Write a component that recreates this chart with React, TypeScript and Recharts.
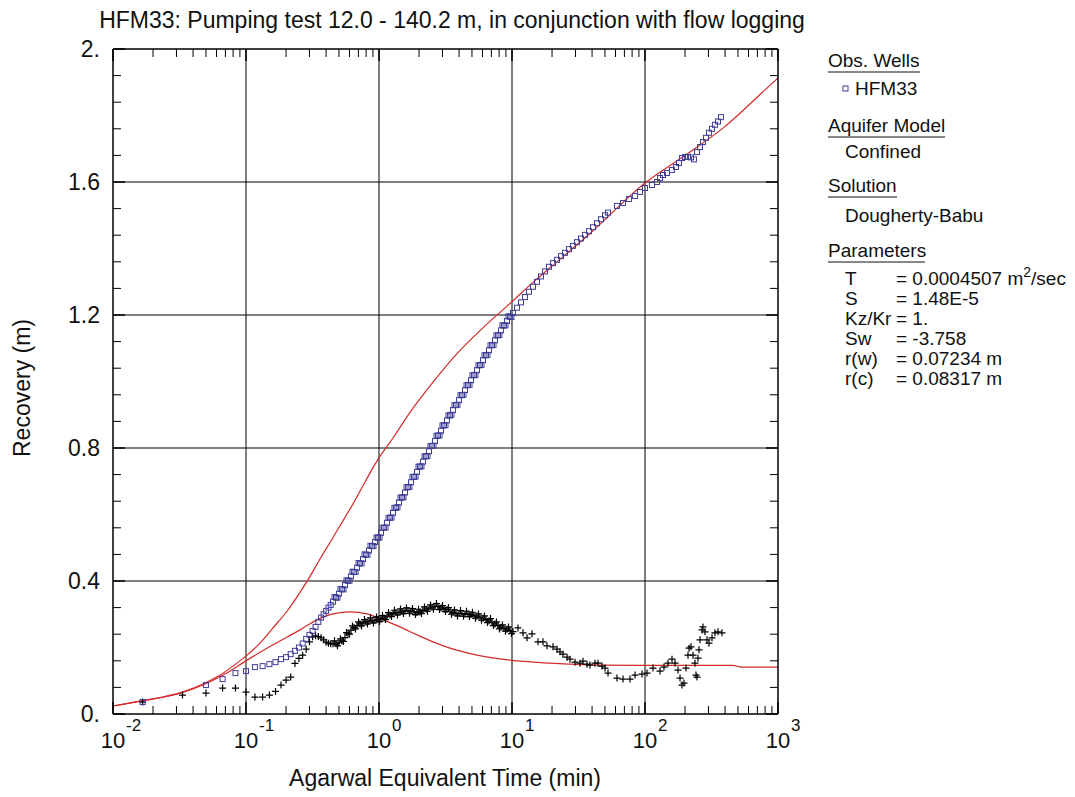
import React from 'react';
import { ComposedChart, XAxis, YAxis, Scatter, Line, ReferenceLine } from 'recharts';

const FONT = '"Liberation Sans", Arial, sans-serif';
const W = 1075;
const H = 797;

// ---------- axis definitions ----------
const xDecades = [0.01, 0.1, 1, 10, 100, 1000];
const xExponents = ['-2', '-1', '0', '1', '2', '3'];
const yMajor = [0, 0.4, 0.8, 1.2, 1.6, 2.0];
const yLabels = ['0.', '0.4', '0.8', '1.2', '1.6', '2.'];
const yMinorCount = 25; // 0.08 steps between 0 and 2
const yMinorStep = 0.08;

// ---------- data: [time (min), value (m)] ----------
const obsRecovery: [number, number][] = [
  [0.0167, 0.036], [0.05, 0.087], [0.0667, 0.105], [0.0833, 0.123], [0.1, 0.129], [0.1167, 0.141],
  [0.1333, 0.144], [0.15, 0.15], [0.1667, 0.156], [0.1833, 0.165], [0.2, 0.171], [0.2167, 0.18],
  [0.2333, 0.19], [0.25, 0.2], [0.2667, 0.212], [0.2833, 0.226], [0.3, 0.238], [0.3167, 0.25],
  [0.3333, 0.262], [0.35, 0.277], [0.3667, 0.29], [0.3833, 0.3], [0.4, 0.31], [0.4167, 0.32], [0.4333, 0.328],
  [0.451, 0.338], [0.475, 0.35], [0.5, 0.362], [0.527, 0.375], [0.555, 0.388], [0.585, 0.401],
  [0.616, 0.414], [0.649, 0.427], [0.684, 0.44], [0.72, 0.453], [0.758, 0.466], [0.798, 0.479],
  [0.841, 0.492], [0.886, 0.505], [0.933, 0.517], [0.983, 0.53], [1.035, 0.545], [1.091, 0.56],
  [1.149, 0.575], [1.21, 0.59], [1.274, 0.605], [1.342, 0.62], [1.414, 0.636], [1.489, 0.651],
  [1.568, 0.666], [1.652, 0.682], [1.74, 0.697], [1.833, 0.713], [1.93, 0.728], [2.033, 0.744],
  [2.142, 0.759], [2.256, 0.775], [2.376, 0.79], [2.503, 0.806], [2.636, 0.821], [2.777, 0.837],
  [2.925, 0.852], [3.081, 0.868], [3.245, 0.883], [3.418, 0.898], [3.6, 0.914], [3.792, 0.929],
  [3.994, 0.944], [4.207, 0.959], [4.431, 0.974], [4.667, 0.989], [4.916, 1.004], [5.178, 1.019],
  [5.454, 1.034], [5.745, 1.049], [6.051, 1.064], [6.374, 1.079], [6.713, 1.094], [7.071, 1.109],
  [7.448, 1.124], [7.845, 1.139], [8.263, 1.154], [8.703, 1.168], [9.167, 1.182], [9.656, 1.195],
  [10.17, 1.206], [10.91, 1.222], [11.69, 1.238], [12.53, 1.254], [13.42, 1.27], [14.38, 1.285],
  [15.41, 1.3], [16.52, 1.316], [17.7, 1.331], [18.97, 1.345], [20.33, 1.356], [21.79, 1.366],
  [23.35, 1.377], [25.02, 1.387], [26.81, 1.398], [28.74, 1.408], [30.8, 1.419], [33.01, 1.43],
  [35.37, 1.441], [37.91, 1.452], [40.64, 1.464], [43.55, 1.476], [46.68, 1.488], [50.04, 1.5],
  [52.72, 1.508], [61.56, 1.528], [68.35, 1.537], [75.86, 1.549], [84.2, 1.558], [91.6, 1.57],
  [100, 1.582], [112.9, 1.591], [123.1, 1.6], [129.7, 1.612], [136.5, 1.621], [146.3, 1.627],
  [159.5, 1.636], [171.0, 1.645], [180.2, 1.657], [189.7, 1.672], [199.9, 1.675], [210.5, 1.676],
  [221.8, 1.674], [233.4, 1.668], [246.0, 1.69], [259.2, 1.705], [272.9, 1.72], [287.5, 1.733],
  [302.7, 1.748], [319.0, 1.76], [335.7, 1.772], [353.8, 1.782], [372.5, 1.795],
];

// extra readings inside the thick recovery band (0.45 - 10 min)
const obsRecoveryBand: [number, number][] = [
  [0.463, 0.352], [0.487, 0.35], [0.513, 0.376], [0.541, 0.375], [0.57, 0.402], [0.6, 0.401],
  [0.632, 0.428], [0.666, 0.427], [0.702, 0.454], [0.739, 0.453], [0.778, 0.48], [0.819, 0.479],
  [0.863, 0.506], [0.909, 0.505], [0.958, 0.531], [1.009, 0.531], [1.062, 0.56], [1.12, 0.561],
  [1.179, 0.59], [1.242, 0.591], [1.307, 0.62], [1.377, 0.622], [1.451, 0.651], [1.528, 0.652],
  [1.609, 0.682], [1.695, 0.683], [1.786, 0.713], [1.881, 0.714], [1.981, 0.744], [2.086, 0.745],
  [2.198, 0.775], [2.315, 0.776], [2.439, 0.806], [2.569, 0.807], [2.705, 0.837], [2.85, 0.838],
  [3.002, 0.868], [3.162, 0.869], [3.33, 0.898], [3.508, 0.9], [3.695, 0.929], [3.892, 0.93],
  [4.099, 0.959], [4.318, 0.96], [4.548, 0.989], [4.79, 0.99], [5.045, 1.019], [5.314, 1.02],
  [5.597, 1.049], [5.896, 1.05], [6.21, 1.079], [6.542, 1.08], [6.89, 1.109], [7.257, 1.11],
  [7.644, 1.139], [8.051, 1.14], [8.48, 1.169], [8.932, 1.169], [9.408, 1.196], [9.91, 1.194],
];

const obsDerivative: [number, number][] = [
  [0.0167, 0.036], [0.0333, 0.057], [0.05, 0.063], [0.0667, 0.078], [0.0833, 0.078], [0.1, 0.066],
  [0.1167, 0.051], [0.1333, 0.051], [0.15, 0.057], [0.1667, 0.068], [0.1833, 0.087], [0.2, 0.102],
  [0.2167, 0.111], [0.2333, 0.152], [0.25, 0.167], [0.2667, 0.177], [0.2833, 0.195], [0.3, 0.217],
  [0.3167, 0.232], [0.3333, 0.235], [0.35, 0.233], [0.3667, 0.229], [0.3833, 0.223], [0.4, 0.216],
  [0.4167, 0.213], [0.4333, 0.211],
  [0.451, 0.211], [0.475, 0.211], [0.5, 0.214], [0.527, 0.22], [0.555, 0.23], [0.585, 0.242],
  [0.616, 0.252], [0.649, 0.26], [0.684, 0.266], [0.72, 0.271], [0.758, 0.274], [0.798, 0.277],
  [0.841, 0.279], [0.886, 0.281], [0.933, 0.282], [0.983, 0.284], [1.035, 0.286], [1.091, 0.289],
  [1.149, 0.294], [1.21, 0.298], [1.274, 0.302], [1.342, 0.305], [1.414, 0.306], [1.489, 0.308],
  [1.568, 0.31], [1.652, 0.311], [1.74, 0.31], [1.833, 0.307], [1.93, 0.305], [2.033, 0.307],
  [2.142, 0.311], [2.256, 0.315], [2.376, 0.318], [2.503, 0.321], [2.636, 0.324], [2.777, 0.323],
  [2.925, 0.319], [3.081, 0.316], [3.245, 0.314], [3.418, 0.309], [3.6, 0.305], [3.792, 0.303],
  [3.994, 0.302], [4.207, 0.302], [4.431, 0.3], [4.667, 0.301], [4.916, 0.299], [5.178, 0.296],
  [5.454, 0.294], [5.745, 0.291], [6.051, 0.288], [6.374, 0.284], [6.713, 0.28], [7.071, 0.276],
  [7.448, 0.271], [7.845, 0.266], [8.263, 0.261], [8.703, 0.258], [9.167, 0.255], [9.656, 0.251],
  [10.17, 0.248], [11.09, 0.259], [12.1, 0.244], [12.97, 0.229], [14.13, 0.241], [15.68, 0.217],
  [17.1, 0.217], [18.33, 0.205], [20.33, 0.202], [21.79, 0.195], [22.96, 0.187], [24.17, 0.18],
  [25.92, 0.171], [27.29, 0.165], [29.77, 0.156], [32.46, 0.153], [34.19, 0.159], [36.64, 0.15],
  [38.56, 0.147], [42.07, 0.153], [44.33, 0.153], [47.51, 0.144], [50.04, 0.138], [52.72, 0.123],
  [61.56, 0.108], [68.35, 0.105], [77.13, 0.105], [84.2, 0.117], [94.9, 0.12], [103.5, 0.123],
  [114.8, 0.138], [129.7, 0.129], [138.9, 0.141], [148.9, 0.153], [159.6, 0.165], [168.2, 0.153],
  [177.1, 0.132], [183.4, 0.108], [189.7, 0.087], [196.4, 0.093], [203.3, 0.138], [210.5, 0.177],
  [214.3, 0.198], [221.8, 0.202], [229.6, 0.177], [237.6, 0.153], [241.7, 0.117], [246.0, 0.111],
  [250.2, 0.168], [254.6, 0.193], [259.2, 0.223], [268.3, 0.253], [272.9, 0.262], [282.5, 0.247],
  [292.4, 0.223], [302.7, 0.213], [319.0, 0.229], [335.7, 0.244], [353.8, 0.247], [379.3, 0.244],
];

// extra readings inside the thick derivative band (0.45 - 10 min)
const obsDerivativeBand: [number, number][] = [
  [0.463, 0.22], [0.487, 0.205], [0.513, 0.226], [0.541, 0.218], [0.57, 0.245], [0.6, 0.24],
  [0.632, 0.265], [0.666, 0.256], [0.702, 0.277], [0.739, 0.265], [0.778, 0.284], [0.819, 0.271],
  [0.863, 0.289], [0.909, 0.274], [0.958, 0.292], [1.009, 0.278], [1.062, 0.296], [1.12, 0.284],
  [1.179, 0.305], [1.242, 0.293], [1.307, 0.312], [1.377, 0.298], [1.451, 0.316], [1.528, 0.302],
  [1.609, 0.319], [1.695, 0.303], [1.786, 0.317], [1.881, 0.299], [1.981, 0.315], [2.086, 0.302],
  [2.198, 0.322], [2.315, 0.309], [2.439, 0.328], [2.569, 0.315], [2.705, 0.332], [2.85, 0.314],
  [3.002, 0.326], [3.162, 0.308], [3.33, 0.32], [3.508, 0.3], [3.695, 0.313], [3.892, 0.295],
  [4.099, 0.311], [4.318, 0.294], [4.548, 0.309], [4.79, 0.293], [5.045, 0.306], [5.314, 0.288],
  [5.597, 0.301], [5.896, 0.282], [6.21, 0.295], [6.542, 0.275], [6.89, 0.287], [7.257, 0.266],
  [7.644, 0.277], [8.051, 0.256], [8.48, 0.268], [8.932, 0.249], [9.408, 0.262], [9.91, 0.242],
];

const modelRecovery: [number, number][] = [
  [0.01, 0.024], [0.01683, 0.04], [0.03304, 0.066], [0.04751, 0.09], [0.06383, 0.117],
  [0.08551, 0.153], [0.1018, 0.177], [0.1274, 0.213], [0.1596, 0.259], [0.2034, 0.309],
  [0.2547, 0.366], [0.3028, 0.414], [0.36, 0.466], [0.451, 0.531], [0.6379, 0.632],
  [0.9829, 0.766], [1.274, 0.83], [1.71, 0.907], [2.547, 0.998], [3.858, 1.084], [5.745, 1.153],
  [8.12, 1.208], [10.18, 1.243], [14.38, 1.298], [19.31, 1.342], [38.56, 1.445], [100, 1.597],
  [217.9, 1.69], [385.7, 1.762], [798.6, 1.877], [1000, 1.913],
];

const modelDerivative: [number, number][] = [
  [0.01, 0.024], [0.01683, 0.04], [0.03304, 0.064], [0.04751, 0.087], [0.0695, 0.12],
  [0.1018, 0.162], [0.1596, 0.208], [0.2547, 0.253], [0.342, 0.283], [0.451, 0.301],
  [0.605, 0.307], [0.812, 0.301], [1.072, 0.283], [1.438, 0.262], [1.93, 0.238], [2.547, 0.217],
  [3.418, 0.198], [5.454, 0.177], [9.656, 0.162], [19.31, 0.153], [45.9, 0.147], [96.6, 0.146],
  [459, 0.146], [536, 0.141], [1000, 0.141],
];

const toRows = (a: [number, number][]) => a.map(([t, s]) => ({ t, s }));
const recRows = toRows([...obsRecovery, ...obsRecoveryBand]);
const derRows = toRows([...obsDerivative, ...obsDerivativeBand]);
const modelRecRows = toRows(modelRecovery);
const modelDerRows = toRows(modelDerivative);

// ---------- tick lists ----------
const xTicks: number[] = [];
xDecades.forEach((d, i) => {
  xTicks.push(d);
  if (i < xDecades.length - 1) for (let k = 2; k <= 9; k++) xTicks.push(+(d * k).toPrecision(6));
});
const yTicks: number[] = [];
for (let i = 0; i <= yMinorCount; i++) yTicks.push(+(i * yMinorStep).toFixed(2));

const majorXIndex = (v: number) => xDecades.indexOf(v);
const majorYIndex = (v: number) => yMajor.findIndex((m) => Math.abs(m - v) < 1e-9);

const MINOR = 8;
const MAJOR = 12;
const INK = '#000';
const RED = '#d42a2a';
const BLUE = '#3f3f98';

const BottomTick = (p: any) => {
  const mi = majorXIndex(p.payload.value);
  const len = mi >= 0 ? MAJOR : MINOR;
  return (
    <g>
      <line x1={p.x} x2={p.x} y1={p.y} y2={p.y - len} stroke={INK} strokeWidth={mi >= 0 ? 1.5 : 1} />
      {mi >= 0 && (
        <>
          <text x={p.x} y={p.y + 34} textAnchor="middle" fontSize={22} fontFamily={FONT} fill="#111">10</text>
          <text x={p.x + 13} y={p.y + 17} textAnchor="start" fontSize={17} fontFamily={FONT} fill="#111">{xExponents[mi]}</text>
        </>
      )}
    </g>
  );
};

const TopTick = (p: any) => {
  const mi = majorXIndex(p.payload.value);
  const len = mi >= 0 ? MAJOR : MINOR;
  return <line x1={p.x} x2={p.x} y1={p.y} y2={p.y + len} stroke={INK} strokeWidth={mi >= 0 ? 1.5 : 1} />;
};

const LeftTick = (p: any) => {
  const mi = majorYIndex(p.payload.value);
  const len = mi >= 0 ? MAJOR : MINOR;
  return (
    <g>
      <line x1={p.x} x2={p.x + len} y1={p.y} y2={p.y} stroke={INK} strokeWidth={mi >= 0 ? 1.5 : 1} />
      {mi >= 0 && (
        <text x={p.x - 13} y={p.y + 8} textAnchor="end" fontSize={23} fontFamily={FONT} fill="#111">{yLabels[mi]}</text>
      )}
    </g>
  );
};

const RightTick = (p: any) => {
  const mi = majorYIndex(p.payload.value);
  const len = mi >= 0 ? MAJOR : MINOR;
  return <line x1={p.x} x2={p.x - len} y1={p.y} y2={p.y} stroke={INK} strokeWidth={mi >= 0 ? 1.5 : 1} />;
};

const SquareShape = (p: any) => (
  <rect x={p.cx - 2.5} y={p.cy - 2.5} width={5} height={5} fill="none" stroke={BLUE} strokeWidth={1} />
);
const CrossShape = (p: any) => (
  <path d={`M${p.cx - 3.5},${p.cy}H${p.cx + 3.5}M${p.cx},${p.cy - 3.5}V${p.cy + 3.5}`} stroke="#000" strokeWidth={1.2} fill="none" />
);

const legendHeads = [
  { text: 'Obs. Wells', y: 67, w: 92 },
  { text: 'Aquifer Model', y: 132, w: 117 },
  { text: 'Solution', y: 192, w: 69 },
  { text: 'Parameters', y: 257, w: 97 },
];
const legendItems = [
  { text: 'Confined', y: 158 },
  { text: 'Dougherty-Babu', y: 222 },
];
const paramNames = ['T', 'S', 'Kz/Kr', 'Sw', 'r(w)', 'r(c)'];
const paramValues = ['= 0.0004507 m', '= 1.48E-5', '= 1.', '= -3.758', '= 0.07234 m', '= 0.08317 m'];
const paramRowsY = [285, 305, 325, 345, 365, 385];

export default function App() {
  const gridX = xDecades.slice(1, -1);
  const gridY = yMajor.slice(1, -1);
  return (
    <div style={{ position: 'absolute', left: 0, top: 0, width: W, height: H, background: '#fff' }}>
      <ComposedChart width={W} height={H} margin={{ top: 48, left: 112, right: W - 778 - 1, bottom: H - 714 - 1 }}>
        <XAxis
          dataKey="t" type="number" scale="log" domain={[0.01, 1000]} allowDataOverflow
          ticks={xTicks} interval={0} height={1} tickSize={0} tickMargin={0}
          tickLine={false} axisLine={{ stroke: INK, strokeWidth: 1.5 }} tick={(p: any) => <BottomTick {...p} />}
        />
        <XAxis
          xAxisId="top" orientation="top" dataKey="t" type="number" scale="log" domain={[0.01, 1000]} allowDataOverflow
          ticks={xTicks} interval={0} height={1} tickSize={0} tickMargin={0}
          tickLine={false} axisLine={{ stroke: INK, strokeWidth: 1.5 }} tick={(p: any) => <TopTick {...p} />}
        />
        <YAxis
          dataKey="s" type="number" domain={[0, 2]} allowDataOverflow ticks={yTicks} interval={0}
          width={1} tickSize={0} tickMargin={0} tickLine={false} axisLine={{ stroke: INK, strokeWidth: 1.5 }}
          tick={(p: any) => <LeftTick {...p} />}
        />
        <YAxis
          yAxisId="right" orientation="right" dataKey="s" type="number" domain={[0, 2]} allowDataOverflow
          ticks={yTicks} interval={0} width={1} tickSize={0} tickMargin={0} tickLine={false}
          axisLine={{ stroke: INK, strokeWidth: 1.5 }} tick={(p: any) => <RightTick {...p} />}
        />
        {gridX.map((v) => (
          <ReferenceLine key={'gx' + v} x={v} stroke={INK} strokeWidth={1} />
        ))}
        {gridY.map((v) => (
          <ReferenceLine key={'gy' + v} y={v} stroke={INK} strokeWidth={1} />
        ))}
        <Scatter data={derRows} dataKey="s" shape={CrossShape} isAnimationActive={false} />
        <Scatter data={recRows} dataKey="s" shape={SquareShape} isAnimationActive={false} />
        <Line data={modelDerRows} dataKey="s" type="monotone" stroke={RED} strokeWidth={1.2} dot={false} isAnimationActive={false} />
        <Line data={modelRecRows} dataKey="s" type="monotone" stroke={RED} strokeWidth={1.2} dot={false} isAnimationActive={false} />
      </ComposedChart>
      <svg width={W} height={H} style={{ position: 'absolute', left: 0, top: 0, pointerEvents: 'none' }} fontFamily={FONT}>
        <text x={452} y={28} textAnchor="middle" fontSize={23} fill="#111">
          HFM33: Pumping test 12.0 - 140.2 m, in conjunction with flow logging
        </text>
        <text x={445} y={786} textAnchor="middle" fontSize={23} fill="#111">Agarwal Equivalent Time (min)</text>
        <text transform="translate(30,388) rotate(-90)" textAnchor="middle" fontSize={23} fill="#111">Recovery (m)</text>
        {legendHeads.map((h) => (
          <g key={h.text}>
            <text x={828} y={h.y} fontSize={19} fill="#111">{h.text}</text>
            <line x1={828} x2={828 + h.w} y1={h.y + 5} y2={h.y + 5} stroke="#111" strokeWidth={1} />
          </g>
        ))}
        <rect x={843} y={86} width={5} height={5} fill="none" stroke={BLUE} strokeWidth={1} />
        <text x={855} y={95} fontSize={19} fill="#111">HFM33</text>
        {legendItems.map((it) => (
          <text key={it.text} x={845} y={it.y} fontSize={19} fill="#111">{it.text}</text>
        ))}
        {paramNames.map((n, i) => (
          <g key={n}>
            <text x={845} y={paramRowsY[i]} fontSize={19} fill="#111">{n}</text>
            <text x={896} y={paramRowsY[i]} fontSize={19} fill="#111">
              {paramValues[i]}
              {i === 0 && (
                <>
                  <tspan dy={-8} fontSize={14}>2</tspan>
                  <tspan dy={8}>/sec</tspan>
                </>
              )}
            </text>
          </g>
        ))}
      </svg>
    </div>
  );
}
